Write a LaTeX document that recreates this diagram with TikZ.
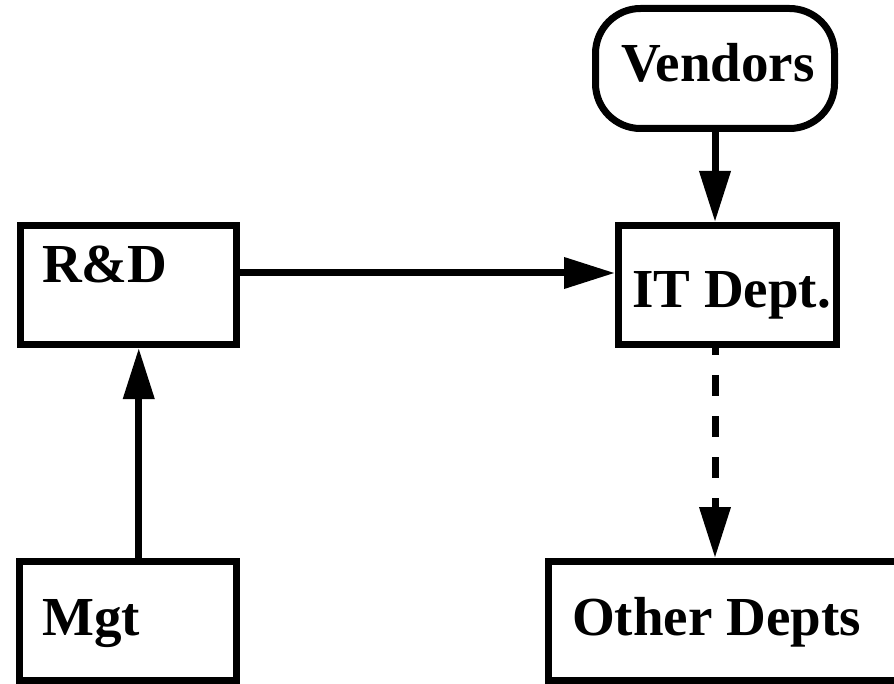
\documentclass[tikz,border=0pt]{standalone}
\usepackage{fontspec}
\setmainfont{Liberation Serif}
\usetikzlibrary{arrows.meta}

\begin{document}
\begin{tikzpicture}[x=1pt,y=-1pt,
  box/.style={draw, line width=7pt, rectangle, inner sep=0pt, outer sep=3.5pt},
  roundbox/.style={box, rounded corners=45pt},
  lbl/.style={inner sep=0pt, anchor=base west, font=\fontsize{55}{60}\selectfont\bfseries},
  link/.style={line width=7pt, -{Triangle[length=51pt,width=30pt]}},
  dashedlink/.style={link, dash pattern=on 21pt off 20pt, dash phase=14pt}]
  \useasboundingbox (0,0) rectangle (894,684);

  % boxes (sizes measured along the stroke centre lines)
  \node[roundbox, minimum width=239pt, minimum height=120pt] (ven) at (715,68.5) {};
  \node[box, minimum width=218pt, minimum height=119pt] (it) at (727.5,285) {};
  \node[box, minimum width=216pt, minimum height=119pt] (rd) at (128.5,285) {};
  \node[box, minimum width=217.5pt, minimum height=119pt] (mgt) at (127.75,621) {};
  \node[box, minimum width=360pt, minimum height=119pt] (oth) at (728.5,621) {};

  % labels
  \node[lbl] (venl) at (621,82) {Vendors};
  \node[lbl] (itl) at (632,308) {IT Dept.};
  \node[lbl] (rdl) at (42,283) {R\&D};
  \node[lbl] (mgtl) at (42,635) {Mgt};
  \node[lbl] (othl) at (572,635) {Other Depts};

  % connectors
  \draw[link] (ven.south) -- (ven.south |- it.north);
  \draw[link] ([yshift=12pt]rd.east) -- ([yshift=12pt]it.west);
  \draw[link] ([xshift=11pt]mgt.north) -- ([xshift=11pt]mgt.north |- rd.south);
  \draw[dashedlink] (ven.south |- it.south) -- (ven.south |- oth.north);
\end{tikzpicture}
\end{document}
